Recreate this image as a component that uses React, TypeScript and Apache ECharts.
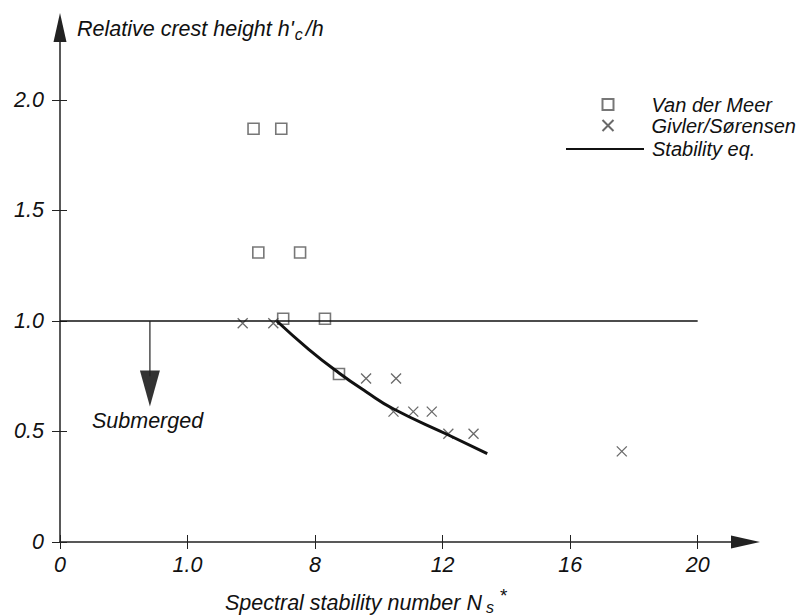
import React, { useEffect, useRef } from 'react';
import * as echarts from 'echarts';

const FONT = '"Liberation Sans", Arial, Helvetica, sans-serif';
const FS = 21.5;

const xTicks = [0, 4, 8, 12, 16, 20];
const xTickLabels = ['0', '1.0', '8', '12', '16', '20'];
const yTicks = [0, 0.5, 1.0, 1.5, 2.0];
const yTickLabels = ['0', '0.5', '1.0', '1.5', '2.0'];

const seriesNames = ['Van der Meer', 'Givler/Sørensen', 'Stability eq.'];

const vanDerMeer = [
  [6.07, 1.87],
  [6.94, 1.87],
  [6.22, 1.31],
  [7.53, 1.31],
  [7.0, 1.01],
  [8.31, 1.01],
  [8.75, 0.76],
];

const givlerSorensen = [
  [5.73, 0.99],
  [6.69, 0.99],
  [9.6, 0.74],
  [10.54, 0.74],
  [10.46, 0.59],
  [11.08, 0.59],
  [11.66, 0.59],
  [12.18, 0.49],
  [12.97, 0.49],
  [17.62, 0.41],
];

const stabilityEq = [
  [6.8, 1.0],
  [7.8, 0.872],
  [8.75, 0.765],
  [9.6, 0.68],
  [10.45, 0.603],
  [12.2, 0.483],
  [13.4, 0.4],
];

const referenceLine = [
  [0, 1.0],
  [20, 1.0],
];

const submergedShaft = [
  [2.82, 1.0],
  [2.82, 0.75],
];
const submergedHead = [[2.82, 0.694]];

const labelStyle = {
  fontFamily: FONT,
  fontSize: FS,
  fontStyle: 'italic' as const,
  color: '#111',
};

export default function App() {
  const ref = useRef<HTMLDivElement>(null);

  useEffect(() => {
    if (!ref.current) return;
    const chart = echarts.init(ref.current, undefined, { renderer: 'svg' });

    const axisColor = '#222';

    const option: any = {
      animation: false,
      backgroundColor: '#fff',
      grid: { left: 60, right: 56.5, top: 27.5, bottom: 73, containLabel: false },
      xAxis: [
        {
          type: 'value',
          min: 0,
          max: 21.5,
          position: 'bottom',
          axisLine: {
            show: true,
            onZero: false,
            symbol: ['none', 'triangle'],
            symbolSize: [13, 29],
            lineStyle: { color: axisColor, width: 1.5 },
          },
          axisTick: {
            show: true,
            customValues: xTicks,
            inside: false,
            length: 7,
            lineStyle: { color: axisColor, width: 1 },
          },
          axisLabel: {
            ...labelStyle,
            customValues: xTicks,
            margin: 12,
            formatter: (v: number) => {
              const i = xTicks.findIndex((t) => Math.abs(t - v) < 1e-6);
              return i >= 0 ? xTickLabels[i] : '';
            },
          },
          splitLine: { show: false },
        },
        {
          type: 'value',
          min: 0,
          max: 21.5,
          position: 'bottom',
          axisLine: { show: false },
          axisTick: {
            show: true,
            customValues: xTicks,
            inside: true,
            length: 7,
            lineStyle: { color: axisColor, width: 1 },
          },
          axisLabel: { show: false },
          splitLine: { show: false },
        },
      ],
      yAxis: [
        {
          type: 'value',
          min: 0,
          max: 2.328,
          position: 'left',
          axisLine: {
            show: true,
            onZero: false,
            symbol: ['none', 'triangle'],
            symbolSize: [13, 29],
            lineStyle: { color: axisColor, width: 1.5 },
          },
          axisTick: {
            show: true,
            customValues: yTicks,
            inside: false,
            length: 8,
            lineStyle: { color: axisColor, width: 1 },
          },
          axisLabel: {
            ...labelStyle,
            customValues: yTicks,
            margin: 16,
            formatter: (v: number) => {
              const i = yTicks.findIndex((t) => Math.abs(t - v) < 1e-6);
              return i >= 0 ? yTickLabels[i] : '';
            },
          },
          splitLine: { show: false },
        },
        {
          type: 'value',
          min: 0,
          max: 2.328,
          position: 'left',
          axisLine: { show: false },
          axisTick: {
            show: true,
            customValues: yTicks,
            inside: true,
            length: 7,
            lineStyle: { color: axisColor, width: 1 },
          },
          axisLabel: { show: false },
          splitLine: { show: false },
        },
      ],
      legend: [
        {
          data: [seriesNames[0], seriesNames[1]],
          orient: 'vertical',
          left: 600,
          top: 94,
          padding: 0,
          itemGap: 0,
          itemWidth: 11,
          itemHeight: 11,
          selectedMode: false,
          textStyle: { ...labelStyle, fontSize: 20, lineHeight: 21, padding: [0, 0, 0, 33] },
        },
        {
          data: [seriesNames[2]],
          orient: 'vertical',
          left: 565,
          top: 138.5,
          padding: 0,
          itemGap: 0,
          itemWidth: 78,
          itemHeight: 12,
          selectedMode: false,
          itemStyle: { opacity: 0 },
          textStyle: { ...labelStyle, fontSize: 20, lineHeight: 21, padding: [0, 0, 0, 3] },
        },
      ],
      series: [
        {
          name: 'reference',
          type: 'line',
          data: referenceLine,
          symbol: 'none',
          silent: true,
          lineStyle: { color: '#111', width: 1.3 },
        },
        {
          name: 'submerged-shaft',
          type: 'line',
          data: submergedShaft,
          symbol: 'none',
          silent: true,
          lineStyle: { color: '#222', width: 1.2 },
        },
        {
          name: 'submerged-head',
          type: 'scatter',
          data: submergedHead,
          symbol: 'triangle',
          symbolRotate: 180,
          symbolSize: [20, 36],
          silent: true,
          itemStyle: { color: '#000' },
        },
        {
          name: seriesNames[2],
          type: 'line',
          data: stabilityEq,
          smooth: true,
          symbol: 'none',
          lineStyle: { color: '#111', width: 3 },
          itemStyle: { color: '#111' },
        },
        {
          name: seriesNames[0],
          type: 'scatter',
          data: vanDerMeer,
          symbol: 'rect',
          symbolSize: 11,
          itemStyle: { color: 'rgba(255,255,255,0)', borderColor: '#555', borderWidth: 1.6 },
        },
        {
          name: seriesNames[1],
          type: 'scatter',
          data: givlerSorensen,
          symbol: 'path://M0,0L10,10M10,0L0,10',
          symbolSize: 10,
          itemStyle: { color: 'none', borderColor: '#444', borderWidth: 1.3 },
        },
      ],
      graphic: [
        {
          type: 'text',
          left: 77,
          top: 16,
          style: {
            text: "Relative crest height h'{sub|c}/h",
            fontFamily: FONT,
            fontSize: FS,
            fontStyle: 'italic',
            fill: '#111',
            rich: {
              sub: { fontFamily: FONT, fontSize: 16, fontStyle: 'italic', fill: '#111', lineHeight: 16, padding: [10, 3, 0, 1] },
            },
          },
        },
        {
          type: 'text',
          left: 225,
          top: 586,
          style: {
            text: 'Spectral stability number N{sub|s}{sup|*}',
            fontFamily: FONT,
            fontSize: FS,
            fontStyle: 'italic',
            fill: '#111',
            rich: {
              sub: { fontFamily: FONT, fontSize: 16, fontStyle: 'italic', fill: '#111', lineHeight: 16, padding: [9, 0, 0, 4] },
              sup: { fontFamily: FONT, fontSize: 19, fill: '#111', lineHeight: 19, padding: [0, 0, 15, 6] },
            },
          },
        },
        {
          type: 'text',
          left: 92,
          top: 410,
          style: {
            text: 'Submerged',
            fontFamily: FONT,
            fontSize: FS,
            fontStyle: 'italic',
            fill: '#111',
          },
        },
      ],
    };

    chart.setOption(option);
    return () => chart.dispose();
  }, []);

  return (
    <div
      ref={ref}
      style={{ position: 'fixed', left: 0, top: 0, width: 802, height: 615, background: '#fff' }}
    />
  );
}
